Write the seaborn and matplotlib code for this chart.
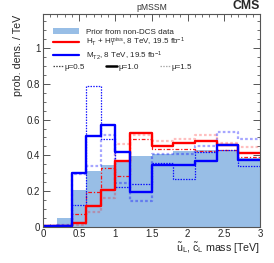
import numpy as np
import matplotlib
matplotlib.use("Agg")
import matplotlib.pyplot as plt
import seaborn as sns
from matplotlib.lines import Line2D
from matplotlib.patches import Patch
from matplotlib.ticker import MultipleLocator

# bin edges of the squark mass [TeV]
edges = [0, 0.2, 0.4, 0.6, 0.8, 1.0, 1.2, 1.5, 1.8, 2.1, 2.4, 2.7, 3.0]

prior = [0.005, 0.05, 0.205, 0.31, 0.345, 0.37, 0.396, 0.41, 0.425, 0.43, 0.43, 0.385]

ht_mu10 = [0.003, 0.003, 0.02, 0.116, 0.205, 0.37, 0.527, 0.452, 0.467, 0.48, 0.459, 0.415]
ht_mu05 = [0.002, 0.002, 0.07, 0.196, 0.327, 0.284, 0.49, 0.434, 0.434, 0.426, 0.43, 0.389]
ht_mu15 = [0.002, 0.002, 0.01, 0.08, 0.16, 0.465, 0.514, 0.482, 0.49, 0.514, 0.47, 0.448]

mt2_mu10 = [0.005, 0.005, 0.303, 0.508, 0.57, 0.417, 0.193, 0.345, 0.348, 0.37, 0.46, 0.374]
mt2_mu05 = [0.005, 0.01, 0.12, 0.788, 0.49, 0.22, 0.238, 0.355, 0.265, 0.417, 0.43, 0.34]
mt2_mu15 = [0.005, 0.01, 0.293, 0.34, 0.514, 0.247, 0.144, 0.41, 0.41, 0.452, 0.532, 0.49]

labels = ["Prior from non-DCS data",
          r"H$_\mathregular{T}$ + H$_\mathregular{T}^\mathregular{miss}$, 8 TeV, 19.5 fb$^{-1}$",
          r"M$_\mathregular{T2}$, 8 TeV, 19.5 fb$^{-1}$"]
mu_labels = ["\u03bc=0.5", "\u03bc=1.0", "\u03bc=1.5"]

sns.set_style("ticks")
plt.rcParams['font.family'] = ['Liberation Sans', 'DejaVu Sans']
plt.rcParams['mathtext.default'] = 'regular'

fill_col = '#98bee6'
red = '#ff0000'
blue = '#0000ff'

centers = [(edges[i] + edges[i + 1]) / 2 for i in range(len(edges) - 1)]

fig = plt.figure(figsize=(2.74, 2.63), dpi=100)
ax = fig.add_axes([43 / 274, 1 - 226.7 / 263, 217 / 274, 212.4 / 263])

def stepline(vals, color, lw, ls='-', alpha=1.0, fill=False):
    sns.histplot(x=centers, weights=vals, bins=edges, element='step', fill=fill,
                 color=color, linewidth=lw, linestyle=ls, alpha=alpha, ax=ax,
                 stat='count')

sns.histplot(x=centers, weights=prior, bins=edges, element='step', fill=True,
             color=fill_col, alpha=1.0, linewidth=0, ax=ax, stat='count')

dot = (0, (1.2, 1.0))
stepline(ht_mu15, red, 1.6, dot, alpha=0.25)
stepline(mt2_mu15, blue, 1.6, dot, alpha=0.35)
stepline(ht_mu05, red, 0.9, (0, (3, 1.5, 1, 1.5)), alpha=0.9)
stepline(mt2_mu05, blue, 0.9, dot, alpha=0.9)
stepline(ht_mu10, red, 1.7)
stepline(mt2_mu10, blue, 1.7)

ax.set_xlim(0, 3)
ax.set_ylim(0, 1.19)
ax.xaxis.set_minor_locator(MultipleLocator(0.1))
ax.yaxis.set_minor_locator(MultipleLocator(0.05))
ax.set_xticks([0, 0.5, 1, 1.5, 2, 2.5, 3])
ax.set_xticklabels(['0', '0.5', '1', '1.5', '2', '2.5', '3'])
ax.set_yticks([0, 0.2, 0.4, 0.6, 0.8, 1.0])
ax.set_yticklabels(['0', '0.2', '0.4', '0.6', '0.8', '1'])
ax.tick_params(which='both', direction='in', top=True, right=True, labelsize=7,
               color='#555555', pad=2)
ax.tick_params(which='major', length=5, width=0.7)
ax.tick_params(which='minor', length=2.5, width=0.6)
for sp in ax.spines.values():
    sp.set_color('#555555')
    sp.set_linewidth(0.8)

ax.set_xlabel(r"$\tilde{u}_L$, $\tilde{c}_L$ mass [TeV]", fontsize=7.7, loc='right',
              labelpad=1)
ax.set_ylabel("prob. dens. / TeV", fontsize=7.7, loc='top', labelpad=3)

ax.text(0.5, 1.012, "pMSSM", transform=ax.transAxes, ha='center', va='bottom',
        fontsize=6.2, color='#333333')
ax.text(1.0, 1.012, "CMS", transform=ax.transAxes, ha='right', va='bottom',
        fontsize=8.8, fontweight='bold')

handles = [Patch(facecolor=fill_col, edgecolor='none'),
           Line2D([], [], color=red, lw=1.6),
           Line2D([], [], color=blue, lw=1.6)]
leg1 = ax.legend(handles, labels, loc='upper left', bbox_to_anchor=(0.045, 0.935),
                 frameon=False, fontsize=5.8, handlelength=3.3, handletextpad=0.8,
                 labelspacing=0.02, borderpad=0, borderaxespad=0)
ax.add_artist(leg1)

mu_handles = [Line2D([], [], color='#444444', lw=0.9, ls=dot),
              Line2D([], [], color='black', lw=1.8),
              Line2D([], [], color='#aaaaaa', lw=0.9, ls=dot)]
ax.legend(mu_handles, mu_labels, loc='upper left', bbox_to_anchor=(0.045, 0.77),
          frameon=False, fontsize=5.8, ncol=3, handlelength=1.3, handletextpad=0.2,
          columnspacing=2.6, borderpad=0, borderaxespad=0)

fig.savefig("out.png", dpi=100)
